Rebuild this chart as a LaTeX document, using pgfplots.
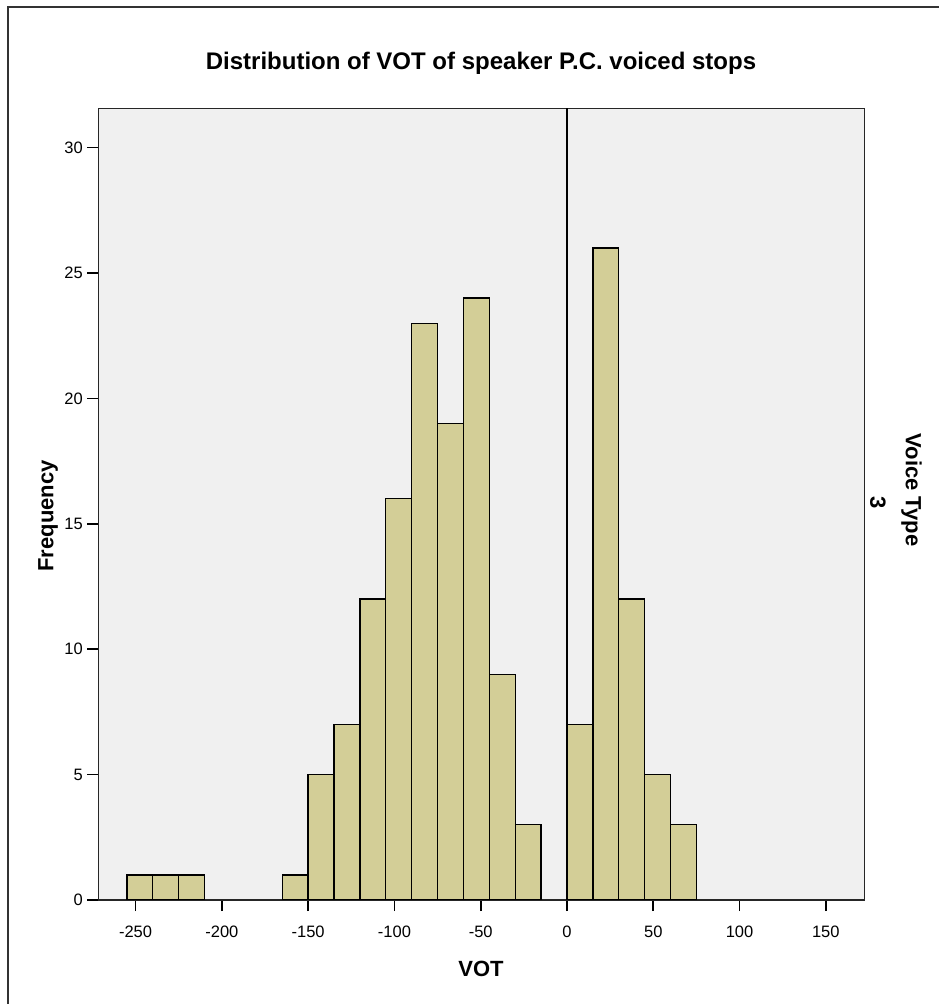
\documentclass[border=0pt]{standalone}
\usepackage{fontspec}
\setmainfont{Liberation Sans}
\usepackage{pgfplots}
\pgfplotsset{compat=1.18}
\definecolor{barfill}{RGB}{211,206,151}
\definecolor{plotbg}{RGB}{240,240,240}
\begin{document}
\begin{tikzpicture}[x=1pt,y=1pt]
\path[use as bounding box] (0,0) rectangle (939,1004);
\draw[line width=1.3pt, black!80] (8,-5) -- (8,997) -- (945,997);
\begin{axis}[
  at={(98.3pt,104pt)}, anchor=south west,
  scale only axis, width=766pt, height=791.7pt,
  xmin=-271.6, xmax=172.3, ymin=0, ymax=31.57,
  axis background/.style={fill=plotbg},
  axis line style={line width=1.4pt, black!85},
  xtick={-250,-200,-150,-100,-50,0,50,100,150},
  xticklabels={-250,-200,-150,-100,-50,0,50,100,150},
  ytick={0,5,10,15,20,25,30},
  yticklabels={0,5,10,15,20,25,30},
  xtick pos=bottom, ytick pos=left,
  tick align=outside, major tick length=11pt,
  tick style={line width=1.6pt, black},
  tick label style={font=\fontsize{16.5}{18}\selectfont},
  xticklabel style={yshift=-11pt},
  yticklabel style={xshift=-1pt},
]
\addplot[ybar interval, fill=barfill, draw=black, line width=1.3pt] coordinates {
(-255,1) (-240,1) (-225,1) (-210,0)
};
\addplot[ybar interval, fill=barfill, draw=black, line width=1.3pt] coordinates {
(-165,1) (-150,5) (-135,7) (-120,12) (-105,16) (-90,23) (-75,19) (-60,24) (-45,9) (-30,3) (-15,0)
};
\addplot[ybar interval, fill=barfill, draw=black, line width=1.3pt] coordinates {
(0,7) (15,26) (30,12) (45,5) (60,3) (75,0)
};
\draw[line width=1.4pt, black] (axis cs:0,0) -- (axis cs:0,31.57);
\end{axis}
\node[font=\bfseries\fontsize{24}{26}\selectfont, anchor=base] at (481,934.7) {Distribution of VOT of speaker P.C. voiced stops};
\node[font=\bfseries\fontsize{22}{24}\selectfont] at (481,35.3) {VOT};
\node[font=\bfseries\fontsize{22}{24}\selectfont, rotate=90] at (48,488) {Frequency};
\node[font=\bfseries\fontsize{22}{24}\selectfont, rotate=-90] at (911.5,514) {Voice Type};
\node[font=\bfseries\fontsize{22}{24}\selectfont, rotate=-90] at (878,501) {3};
\end{tikzpicture}
\end{document}
